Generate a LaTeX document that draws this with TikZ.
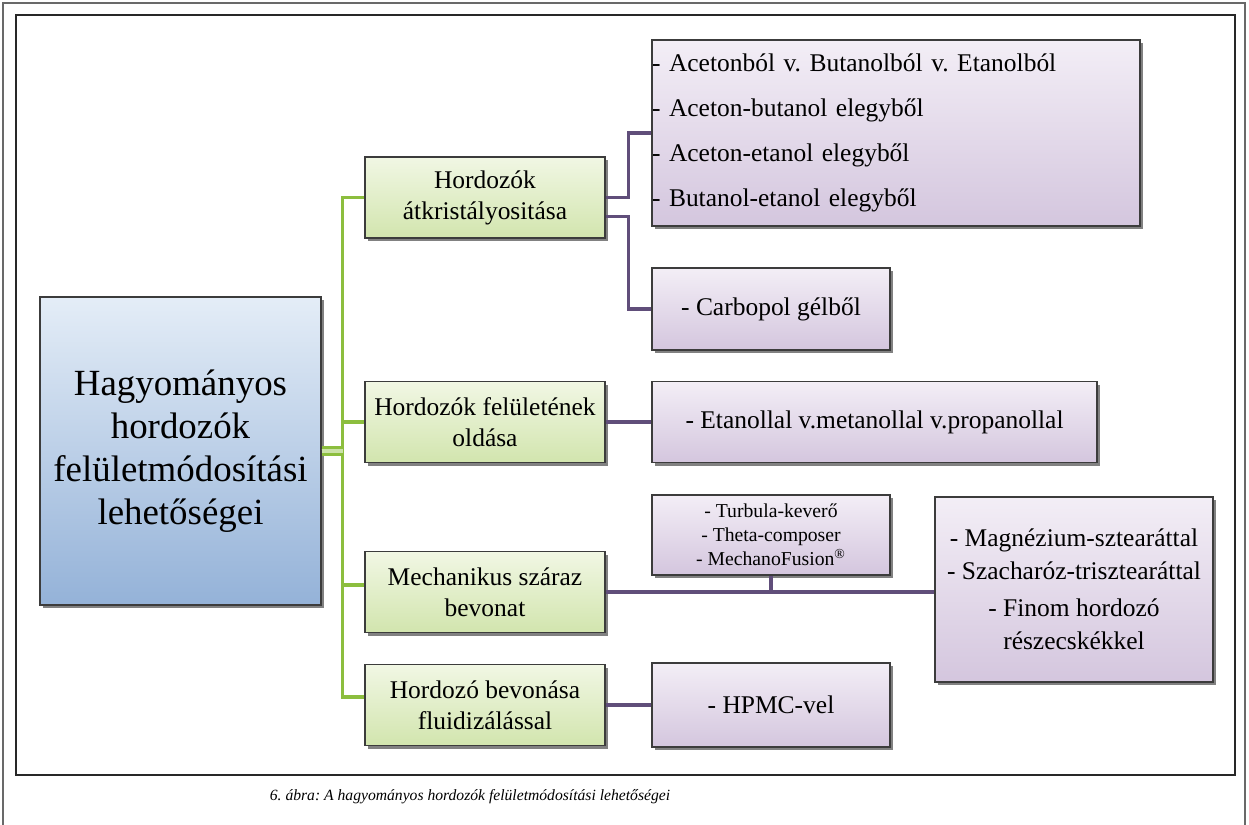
\documentclass[tikz,border=0pt]{standalone}
\usepackage{fontspec}
\setmainfont{Liberation Serif}
\usepackage{xcolor}
\usepackage{tikz}
\usetikzlibrary{shadows,calc}
\definecolor{hgline}{RGB}{140,190,62}
\definecolor{hpline}{RGB}{96,78,122}
\definecolor{hedge}{RGB}{60,60,60}
\definecolor{hgtop}{RGB}{241,247,228}
\definecolor{hgbot}{RGB}{210,229,174}
\definecolor{hptop}{RGB}{243,238,246}
\definecolor{hpbot}{RGB}{212,198,222}
\definecolor{hbtop}{RGB}{228,237,247}
\definecolor{hbbot}{RGB}{148,178,216}
\definecolor{hframe}{RGB}{40,40,40}
\frenchspacing

\begin{document}
\begin{tikzpicture}[x=0.02cm, y=-0.02cm,
    box/.style={draw=hedge, line width=0.7pt, inner sep=0pt, align=center,
        drop shadow={shadow xshift=1.8pt, shadow yshift=-1.8pt, fill=black!70, opacity=0.7}},
    rootbox/.style={box, top color=hbtop, bottom color=hbbot,
        minimum width=5.62cm, minimum height=6.16cm, font=\fontsize{21}{24.5}\selectfont},
    gbox/.style={box, top color=hgtop, bottom color=hgbot,
        minimum width=4.8cm, minimum height=1.62cm, font=\fontsize{14.5}{17.6}\selectfont},
    pbox/.style={box, top color=hptop, bottom color=hpbot,
        minimum width=4.76cm, minimum height=1.64cm, font=\fontsize{14.5}{18.8}\selectfont},
    gline/.style={draw=hgline, line width=1.8pt},
    pline/.style={draw=hpline, line width=1.8pt}]
    \useasboundingbox (0,0) rectangle (1249,825);
    \fill[white] (0,0) rectangle (1249,825);

    % Frames
    \draw[hframe!70, line width=0.6pt] (3,825) -- (3,3) -- (1245,3) -- (1245,825);
    \draw[hframe, line width=0.9pt] (16,15) rectangle (1235,775);

    % Root
    \node[rootbox] (root) at (180.5,451) {Hagyományos\\hordozók\\felületmódosítási\\lehetőségei};

    % Methods
    \node[gbox] (kris) at (485,197.5) {Hordozók\\átkristályositása};
    \node[gbox] (old) at (485,422) {Hordozók felületének\\oldása};
    \node[gbox] (mech) at (485,592) {Mechanikus száraz\\bevonat};
    \node[gbox] (fluid) at (485,705) {Hordozó bevonása\\fluidizálással};

    % Details
    \node[pbox, minimum width=9.76cm, minimum height=3.72cm, text width=9.76cm, align=left,
        font=\fontsize{14.5}{25.6}\selectfont] (oldszer) at (896,133)
        {- Acetonból v. Butanolból v. Etanolból\\- Aceton-butanol elegyből\\- Aceton-etanol elegyből\\- Butanol-etanol elegyből};
    \node[pbox] (carb) at (771,309) {- Carbopol gélből};
    \node[pbox, minimum width=8.9cm, minimum height=1.62cm] (etan) at (874.5,422) {- Etanollal v.metanollal v.propanollal};
    \node[pbox, minimum height=1.6cm, font=\fontsize{11.2}{13.6}\selectfont] (turb) at (771,535)
        {- Turbula-keverő\\- Theta-composer\\- MechanoFusion\textsuperscript{®}};
    \node[pbox, minimum width=5.56cm, minimum height=3.7cm] (magn) at (1074,589.5)
        {- Magnézium-sztearáttal\\- Szacharóz-trisztearáttal\\[2pt]- Finom hordozó\\részecskékkel};
    \node[pbox, minimum height=1.68cm] (hpmc) at (771,705) {- HPMC-vel};

    % Green tree
    \draw[gline] (root.east) -- ++(21,0) |- (kris.west);
    \draw[gline] (root.east) -- ++(21,0) |- (old.west);
    \draw[gline] (root.east) -- ++(21,0) |- ($(mech.west)+(0,-7)$);
    \draw[gline] (root.east) -- ++(21,0) |- ($(fluid.west)+(0,-8)$);
    \draw[gline, line width=1.3pt, double=hgline!45, double distance=2.8pt] (root.east) -- ++(21,0);

    % Purple links
    \draw[pline] (kris.east) -- ++(23,0) |- (oldszer.west);
    \draw[pline] ($(kris.east)+(0,19)$) -- ++(23,0) |- (carb.west);
    \draw[pline] (old.east) -- (etan.west);
    \draw[pline] (mech.east) -- (mech.east -| magn.west);
    \draw[pline] (turb.south) -- (turb.south |- mech.east);
    \draw[pline] (fluid.east) -- (hpmc.west);

    % Caption
    \node[font=\itshape\fontsize{8.9}{11}\selectfont] (cap) at (470,797)
        {6. ábra: A hagyományos hordozók felületmódosítási lehetőségei};
\end{tikzpicture}
\end{document}
